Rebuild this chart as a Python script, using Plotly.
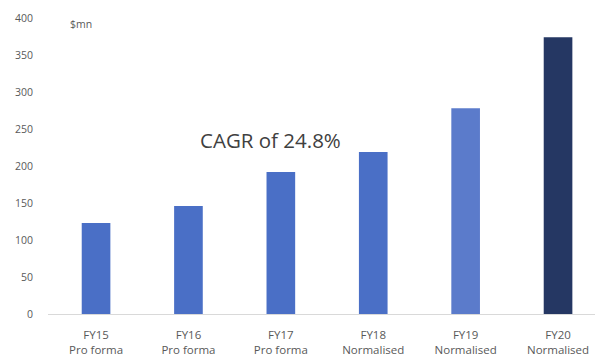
import plotly.graph_objects as go

categories = ["FY15", "FY16", "FY17", "FY18", "FY19", "FY20"]
sublabels = ["Pro forma", "Pro forma", "Pro forma", "Normalised", "Normalised", "Normalised"]
values = [123, 146, 192, 219, 278, 374]
colors = ["#4A6FC6", "#4A6FC6", "#4A6FC6", "#4A6FC6", "#5B7BCB", "#253763"]
y_ticks = [0, 50, 100, 150, 200, 250, 300, 350, 400]

ticktext = [f"{c}<br>{s}" for c, s in zip(categories, sublabels)]

fig = go.Figure(go.Bar(x=categories, y=values, marker=dict(color=colors, line=dict(width=0)), width=0.31))

fig.update_layout(
    width=595, height=356,
    margin=dict(l=48, r=0, t=18, b=42),
    paper_bgcolor="white", plot_bgcolor="white",
    font=dict(family="Open Sans", color="#595959", size=10),
    showlegend=False,
    xaxis=dict(range=[-0.52, 5.40], tickvals=categories, ticktext=ticktext,
               showline=True, linecolor="#D9D9D9", linewidth=1, ticks="",
               tickfont=dict(size=11.5, color="#595959"), showgrid=False,
               ticklabelstandoff=10),
    yaxis=dict(range=[0, 400], tickvals=y_ticks, showgrid=False, zeroline=False,
               showline=False, tickfont=dict(size=10.5, color="#595959"), ticklabelstandoff=14),
    annotations=[
        dict(text="$mn", x=(68 - 48) / 547, xref="paper", y=392, yref="y", showarrow=False,
             font=dict(size=10.5, color="#595959"), xanchor="left", yanchor="middle"),
        dict(text="CAGR of 24.8%", x=(270 - 48) / 547, xref="paper", y=(314 - 140) / 296,
             yref="paper", showarrow=False, font=dict(size=20.5, color="#404040")),
    ],
)

fig.write_html("out.html")
